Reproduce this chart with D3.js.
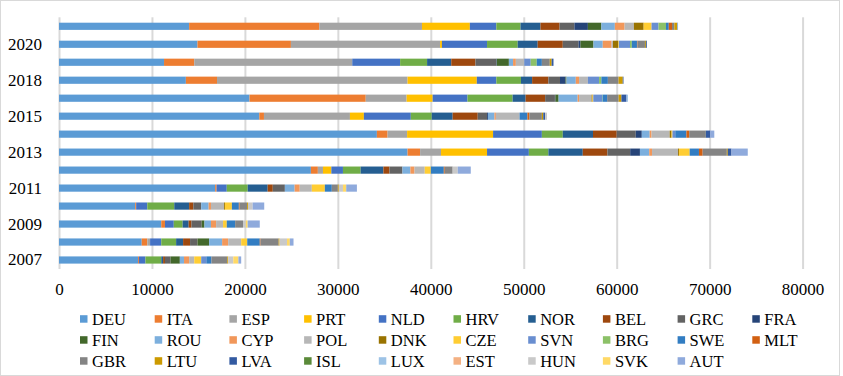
<!DOCTYPE html>
<html>
<head>
<meta charset="utf-8">
<script src="https://cdn.jsdelivr.net/npm/d3@7"></script>
<style>
  body { margin: 0; background: #fff; }
  svg text { font-family: "Liberation Serif", "Times New Roman", serif; fill: #000; }
</style>
</head>
<body>
<svg width="843" height="376"></svg>
<script>
// categories (bottom to top)
const years = ["2007", "2008", "2009", "2010", "2011", "2012", "2013", "2014", "2015", "2016", "2018", "2019", "2020", "2021"];
const countries = ["DEU", "ITA", "ESP", "PRT", "NLD", "HRV", "NOR", "BEL", "GRC", "FRA",
  "FIN", "ROU", "CYP", "POL", "DNK", "CZE", "SVN", "BRG", "SWE", "MLT",
  "GBR", "LTU", "LVA", "ISL", "LUX", "EST", "HUN", "SVK", "AUT"];
const xTicks = [0, 10000, 20000, 30000, 40000, 50000, 60000, 70000, 80000];

// series values, one per country, in the order of `years`
const DEU = [8500, 8900, 11000, 8200, 16800, 27100, 37500, 34200, 21550, 20500, 13650, 11300, 14900, 14000];
const ITA = [100, 600, 400, 100, 150, 750, 1350, 1150, 500, 12500, 3350, 3250, 10050, 14000];
const ESP = [0, 300, 0, 0, 0, 550, 2250, 2100, 9250, 4400, 20500, 17000, 16050, 11050];
const PRT = [0, 0, 0, 0, 0, 900, 4950, 9250, 1500, 2800, 7450, 0, 200, 5150];
const NLD = [700, 1200, 950, 1200, 1100, 1250, 4500, 5250, 5050, 3750, 2100, 5150, 4850, 2850];
const HRV = [1700, 1600, 950, 2900, 2250, 1900, 2100, 2250, 2250, 4850, 2650, 2900, 3300, 2600];
const NOR = [200, 750, 650, 1600, 2150, 2450, 3700, 3250, 2250, 1400, 1200, 2600, 2150, 2150];
const BEL = [200, 750, 300, 450, 550, 650, 2650, 2550, 2700, 2100, 1750, 2600, 2700, 2050];
const GRC = [600, 800, 1100, 850, 1300, 1400, 2450, 2050, 1000, 1050, 1250, 2250, 1700, 1600];
const FRA = [0, 0, 0, 0, 0, 0, 1050, 650, 100, 50, 600, 50, 200, 1450];
const FIN = [1000, 1250, 300, 0, 0, 0, 0, 0, 0, 350, 100, 1300, 1400, 1450];
const ROU = [450, 1400, 700, 800, 1050, 850, 1000, 850, 700, 2050, 1000, 450, 1000, 1450];
const CYP = [550, 650, 550, 250, 550, 450, 300, 200, 150, 150, 350, 300, 950, 1050];
const POL = [550, 1400, 750, 1400, 1300, 1100, 2800, 1950, 2550, 1350, 950, 900, 150, 1000];
const DNK = [0, 0, 0, 100, 0, 0, 100, 200, 0, 100, 0, 0, 550, 1050];
const CZE = [750, 650, 400, 750, 1400, 650, 1150, 100, 0, 80, 0, 0, 80, 850];
const SVN = [550, 0, 0, 0, 0, 0, 0, 300, 0, 950, 1200, 700, 1200, 750];
const BRG = [0, 0, 0, 0, 0, 0, 0, 0, 0, 50, 250, 650, 200, 800];
const SWE = [550, 1350, 900, 750, 750, 1400, 1000, 1200, 850, 550, 700, 550, 550, 300];
const MLT = [0, 80, 0, 80, 0, 100, 400, 300, 200, 30, 0, 0, 60, 350];
const GBR = [1700, 1950, 850, 800, 650, 850, 2600, 1700, 1350, 1150, 1150, 850, 800, 250];
const LTU = [100, 100, 0, 100, 100, 0, 100, 50, 150, 300, 450, 200, 100, 300];
const LVA = [0, 0, 0, 0, 0, 0, 400, 500, 200, 550, 80, 200, 100, 50];
const ISL = [0, 0, 0, 0, 0, 0, 0, 0, 0, 0, 0, 0, 0, 0];
const LUX = [0, 0, 0, 0, 0, 0, 0, 0, 0, 150, 0, 0, 0, 50];
const EST = [0, 0, 0, 0, 0, 0, 0, 0, 0, 0, 0, 0, 0, 0];
const HUN = [550, 800, 300, 500, 450, 550, 0, 0, 200, 0, 0, 0, 0, 0];
const SVK = [550, 300, 200, 0, 350, 0, 0, 0, 0, 0, 0, 0, 0, 0];
const AUT = [300, 400, 1300, 1250, 1150, 1400, 1750, 450, 0, 0, 0, 0, 0, 0];

const seriesValues = [DEU, ITA, ESP, PRT, NLD, HRV, NOR, BEL, GRC, FRA,
  FIN, ROU, CYP, POL, DNK, CZE, SVN, BRG, SWE, MLT,
  GBR, LTU, LVA, ISL, LUX, EST, HUN, SVK, AUT];

const colors = ["#5b9bd5", "#ed7d31", "#a5a5a5", "#ffc000", "#4472c4", "#70ad47", "#255e91", "#9e480e", "#636363", "#264478",
  "#43682b", "#7cafdd", "#f1975a", "#b7b7b7", "#997300", "#ffcd33", "#698ed0", "#8cc168", "#327dc2", "#d26012",
  "#848484", "#cc9a00", "#335aa1", "#5a8a39", "#9dc3e6", "#f4b183", "#c9c9c9", "#ffd966", "#8faadc"];

const svg = d3.select("svg");

// chart border
svg.append("rect")
  .attr("x", 0.5).attr("y", 0.5)
  .attr("width", 839).attr("height", 375)
  .attr("fill", "#fff")
  .attr("stroke", "#d9d9d9");

const rows = years.map((y, i) => {
  const row = { year: y };
  countries.forEach((c, j) => { row[c] = seriesValues[j][i]; });
  return row;
});

const stacked = d3.stack().keys(countries)(rows);

// scales
const xScale = d3.scaleLinear().domain([0, 80000]).range([59, 802.6]);
const yScale = d3.scaleBand()
  .domain(years.slice().reverse())
  .range([17.3, 269])
  .paddingInner(0.6)
  .paddingOuter(0.3);

// grid
const grid = svg.append("g")
  .attr("transform", "translate(0,269)")
  .call(d3.axisBottom(xScale).tickValues(xTicks).tickSize(-251.7).tickFormat(""));
grid.select(".domain").remove();
grid.selectAll("line").attr("stroke", "#d9d9d9").attr("stroke-width", 2);

// bars
svg.append("g")
  .selectAll("g")
  .data(stacked)
  .join("g")
  .attr("fill", (d, i) => colors[i])
  .selectAll("rect")
  .data((d) => d)
  .join("rect")
  .attr("x", (d) => xScale(d[0]))
  .attr("y", (d) => yScale(d.data.year))
  .attr("width", (d) => xScale(d[1]) - xScale(d[0]))
  .attr("height", yScale.bandwidth());

// x labels
const xAxis = svg.append("g")
  .attr("transform", "translate(0,269)")
  .call(d3.axisBottom(xScale).tickValues(xTicks).tickSize(0).tickPadding(14).tickFormat((d) => String(d)));
xAxis.select(".domain").remove();
xAxis.selectAll("text").style("font-size", "17px");

// y labels, every other year
const yAxis = svg.append("g")
  .attr("transform", "translate(59,0)")
  .call(d3.axisLeft(yScale).tickValues(years.filter((d, i) => i % 2 === 0)).tickSize(0).tickPadding(17));
yAxis.select(".domain").remove();
yAxis.selectAll("text").style("font-size", "17px");

// legend
const legend = svg.append("g")
  .selectAll("g")
  .data(countries)
  .join("g")
  .attr("transform", (d, i) => `translate(${80 + (i % 10) * 74.7},${319 + Math.floor(i / 10) * 21})`);
legend.append("rect")
  .attr("x", 0).attr("y", -3.8)
  .attr("width", 7.5).attr("height", 7.5)
  .attr("fill", (d, i) => colors[i]);
legend.append("text")
  .attr("x", 12).attr("y", 5.5)
  .style("font-size", "16.5px")
  .text((d) => d);
</script>
</body>
</html>
